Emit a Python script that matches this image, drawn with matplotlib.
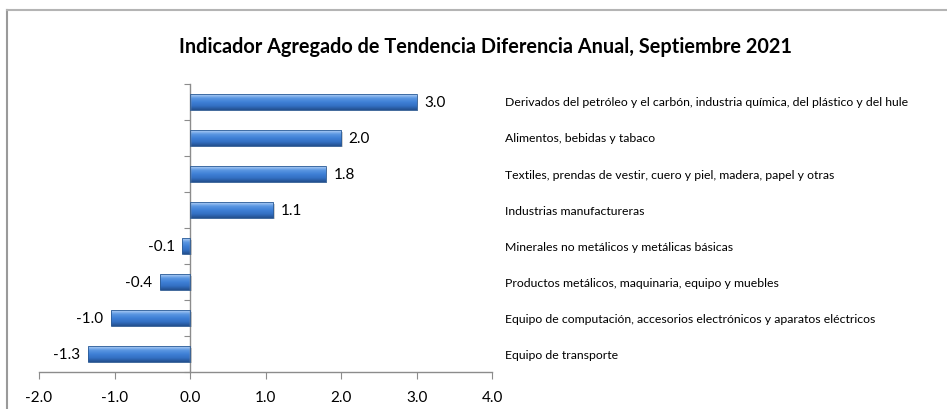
import numpy as np
import matplotlib
matplotlib.use("Agg")
from matplotlib import pyplot as plt
from matplotlib.colors import LinearSegmentedColormap
from matplotlib.lines import Line2D

plt.rcParams['font.family'] = ['Lato', 'DejaVu Sans']

title = "Indicador Agregado de Tendencia Diferencia Anual, Septiembre 2021"
categories = [
    "Derivados del petróleo y el carbón, industria química, del plástico y del hule",
    "Alimentos, bebidas y tabaco",
    "Textiles, prendas de vestir, cuero y piel, madera, papel y otras",
    "Industrias manufactureras",
    "Minerales no metálicos y metálicas básicas",
    "Productos metálicos, maquinaria, equipo y muebles",
    "Equipo de computación, accesorios electrónicos y aparatos eléctricos",
    "Equipo de transporte",
]
values = [3.0, 2.0, 1.8, 1.1, -0.1, -0.4, -1.05, -1.35]
labels = ["3.0", "2.0", "1.8", "1.1", "-0.1", "-0.4", "-1.0", "-1.3"]
x_ticks = [-2, -1, 0, 1, 2, 3, 4]

fig = plt.figure(figsize=(9.47, 4.10), dpi=100)
ax = fig.add_axes([0.0412, 0.0902, 0.4784, 0.7025])

# bar gradient: darker bottom, blue body, light top edge
cmap = LinearSegmentedColormap.from_list(
    "bar", ["#234f8e", "#3370c2", "#3f80d6", "#5b97e2", "#b4d2f6"])
grad = np.linspace(0, 1, 64).reshape(-1, 1)

n = len(values)
ypos = np.arange(n)[::-1]
h = 0.42
for y, v, lab in zip(ypos, values, labels):
    x0, x1 = min(0, v), max(0, v)
    # soft shadow under the bar
    ax.barh(y - 0.05, v, height=h, left=0.02, color="#d0d0d0", zorder=1)
    ax.imshow(grad, cmap=cmap, aspect="auto", origin="lower",
              extent=(x0, x1, y - h / 2, y + h / 2), zorder=2)
    ax.barh(y, v, height=h, facecolor="none", edgecolor="#2d5c96",
            linewidth=0.6, zorder=3)
    if v >= 0:
        ax.text(v + 0.1, y, lab, va="center", ha="left", fontsize=11)
    else:
        ax.text(v - 0.1, y, lab, va="center", ha="right", fontsize=11)

ax.set_xlim(-2, 4)
ax.set_ylim(-0.5, n - 0.5)
ax.set_xticks(x_ticks)
ax.set_xticklabels([f"{t:.1f}" for t in x_ticks], fontsize=11)
ax.set_yticks(np.arange(n + 1) - 0.5)
ax.set_yticklabels([])
ax.spines['left'].set_position(('data', 0))
ax.spines['top'].set_visible(False)
ax.spines['right'].set_visible(False)
for s in ['left', 'bottom']:
    ax.spines[s].set_color("#8c8c8c")
    ax.spines[s].set_linewidth(1.0)
ax.tick_params(axis='x', direction='out', length=5, color="#8c8c8c", pad=8)
ax.tick_params(axis='y', direction='out', length=4, color="#8c8c8c")

# category names to the right of the plot
for y, name in zip(ypos, categories):
    ax.text(4.17, y, name, va="center", ha="left", fontsize=8.8,
            clip_on=False)

fig.text(485 / 947, 1 - 47 / 410, title, ha="center", va="center",
         fontsize=14.3, fontweight="bold")

# outer chart frame (top and left edges visible)
fig.add_artist(Line2D([7 / 947, 7 / 947], [0, 1 - 11 / 410],
                      color="#9a9a9a", linewidth=1.5))
fig.add_artist(Line2D([7 / 947, 1], [1 - 11 / 410, 1 - 11 / 410],
                      color="#b4b4b4", linewidth=1.5))

fig.savefig("out.png", dpi=100)
